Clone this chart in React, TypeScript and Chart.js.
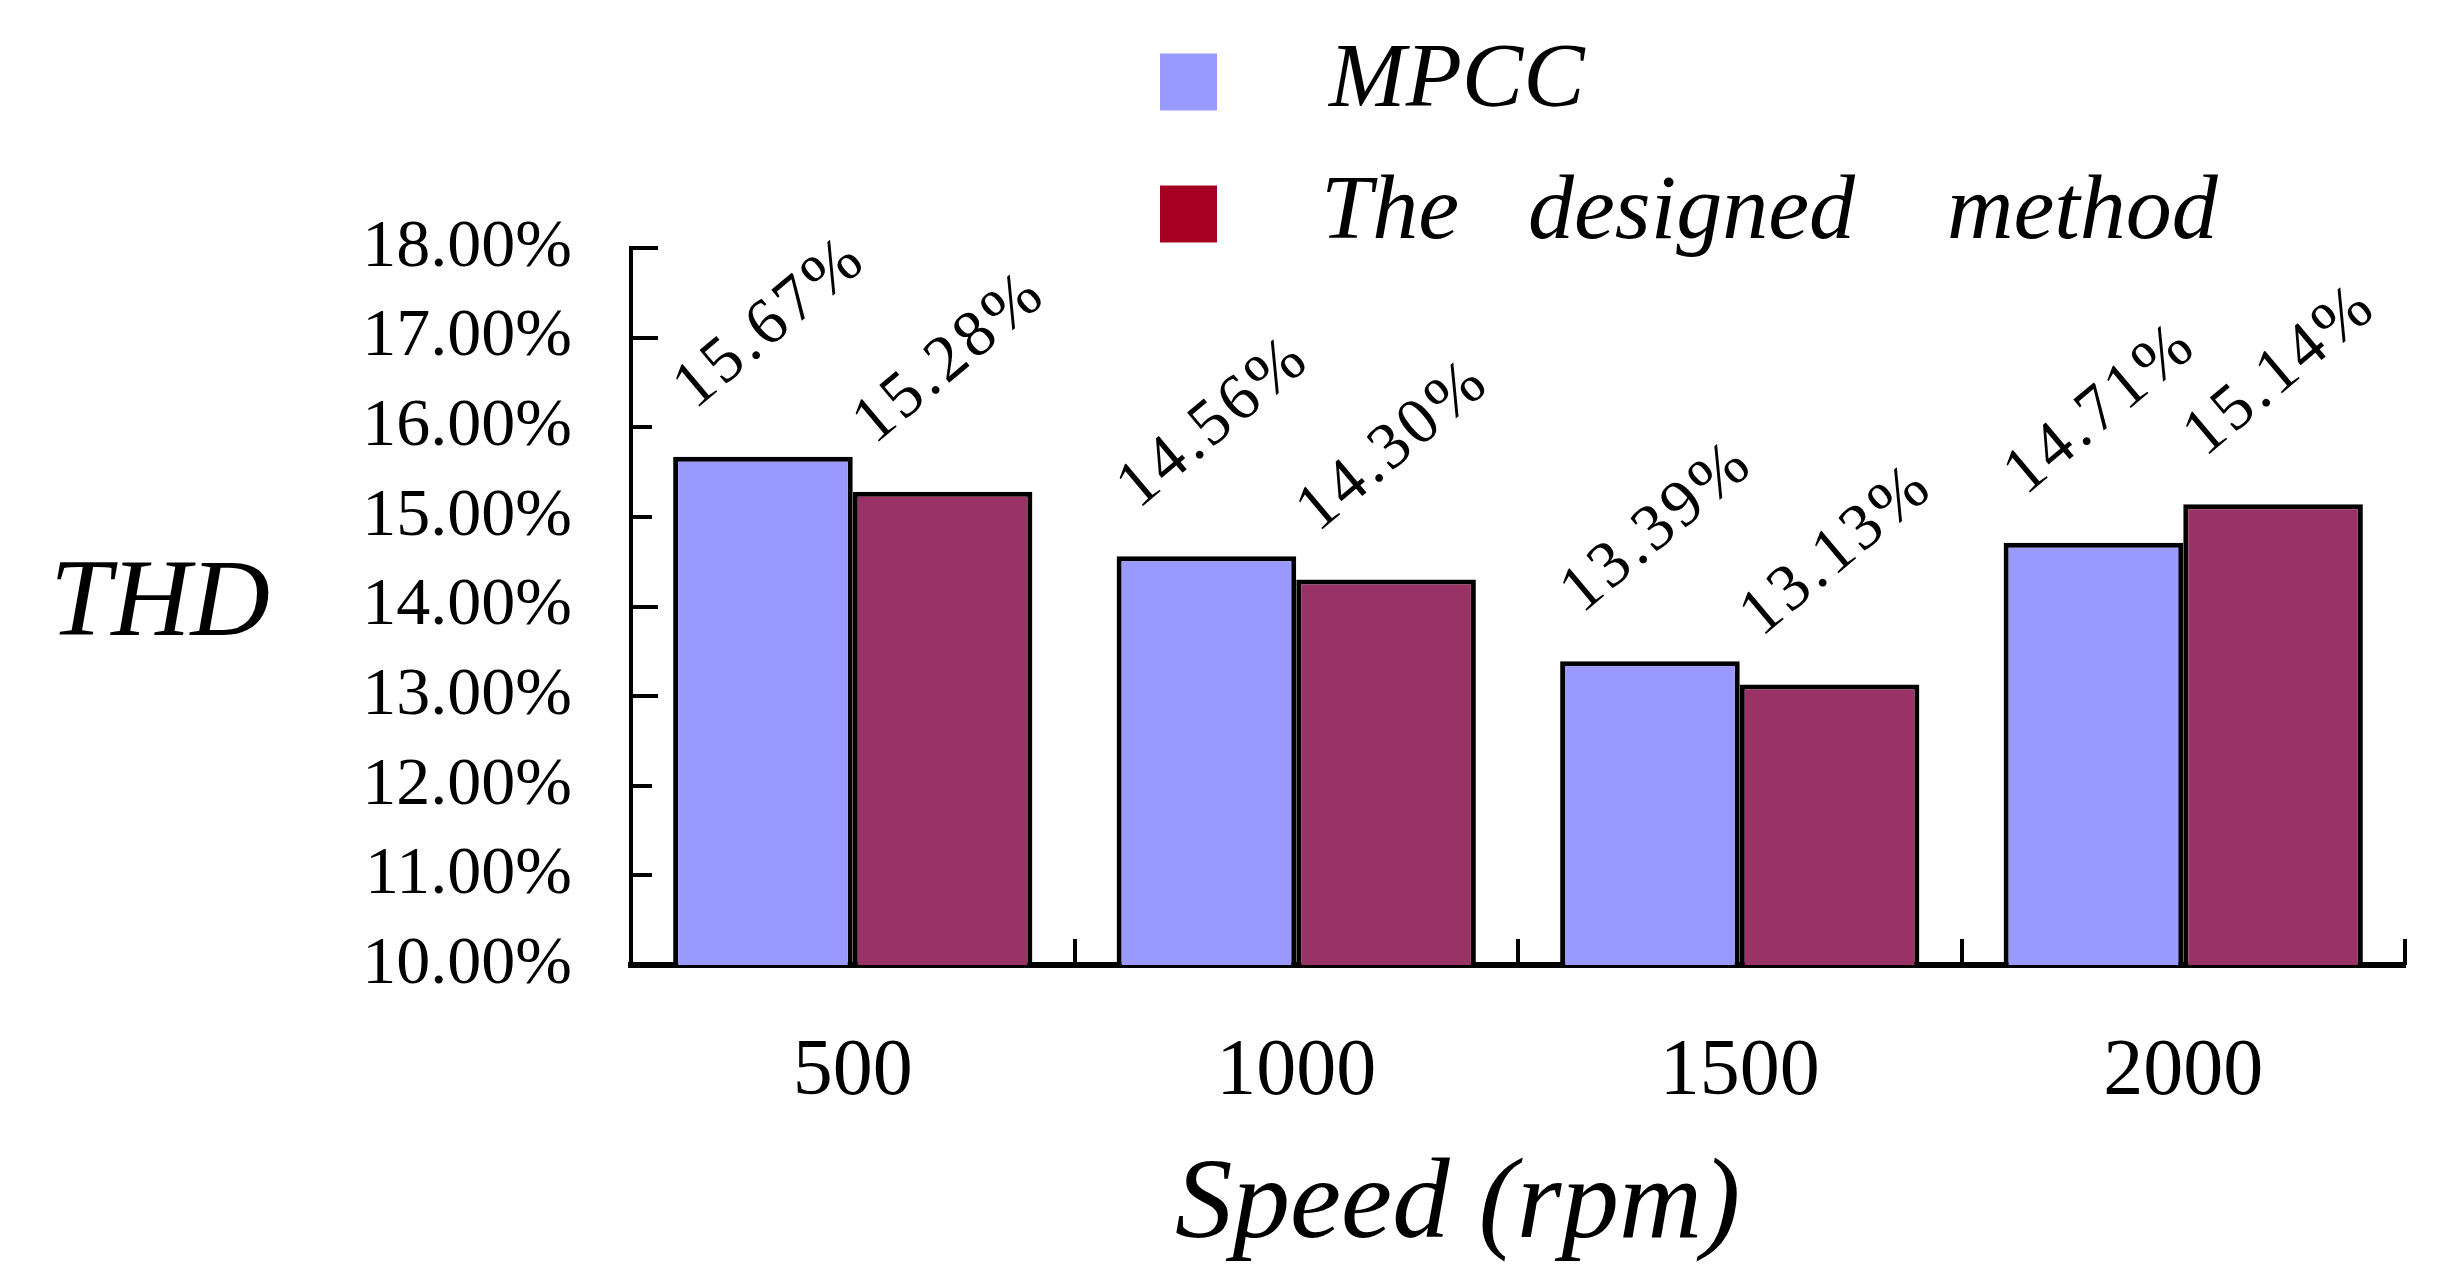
import React, { useEffect, useRef } from 'react';
import { Chart, registerables } from 'chart.js';

Chart.register(...registerables);

// ---- data ----
const categories: string[] = ['500', '1000', '1500', '2000'];
const mpccValues: number[] = [15.67, 14.56, 13.39, 14.71];
const designedValues: number[] = [15.28, 14.30, 13.13, 15.14];
const seriesNames: string[] = ['MPCC', 'The   designed    method'];
const yMin = 10;
const yMax = 18;
const yStep = 1;
const xTitleText = 'Speed (rpm)';
const yTitleText = 'THD';

// ---- styles ----
const barColors = ['#9999FF', '#993366'];
const legendColors = ['#9999FF', '#A50021'];
const SERIF = '"Liberation Serif", "Times New Roman", serif';

const decorPlugin = {
  id: 'decor',
  afterDatasetsDraw(chart: any) {
    const ctx: CanvasRenderingContext2D = chart.ctx;
    const { left, right, top, bottom } = chart.chartArea;
    const xs = chart.scales.x;
    const ys = chart.scales.y;
    ctx.save();
    ctx.strokeStyle = '#000';
    ctx.lineWidth = 4;
    // inward y ticks
    ys.ticks.forEach((t: any, i: number) => {
      if (t.value === yMin) return;
      const py = Math.round(ys.getPixelForValue(t.value));
      const len = i % 4 === 0 || i % 4 === 3 ? 27 : 21;
      ctx.beginPath();
      ctx.moveTo(left, py);
      ctx.lineTo(left + len, py);
      ctx.stroke();
    });
    // x boundary ticks (upward)
    for (let i = 0; i < categories.length; i++) {
      const px =
        i < categories.length - 1
          ? (xs.getPixelForValue(i) + xs.getPixelForValue(i + 1)) / 2
          : right;
      ctx.beginPath();
      ctx.moveTo(Math.round(px), bottom);
      ctx.lineTo(Math.round(px), bottom - 26);
      ctx.stroke();
    }
    // rotated value labels
    chart.data.datasets.forEach((ds: any, di: number) => {
      const meta = chart.getDatasetMeta(di);
      meta.data.forEach((bar: any, i: number) => {
        const v = ds.data[i] as number;
        ctx.save();
        ctx.translate(bar.x + 8, bar.y - 133);
        ctx.rotate((-40 * Math.PI) / 180);
        ctx.font = `66px ${SERIF}`;
        (ctx as any).letterSpacing = '4px';
        ctx.textAlign = 'center';
        ctx.textBaseline = 'middle';
        ctx.fillStyle = '#000';
        ctx.fillText(v.toFixed(2) + '%', 0, 0);
        ctx.restore();
      });
    });
    // y title (horizontal)
    ctx.fillStyle = '#000';
    ctx.font = `italic 110px ${SERIF}`;
    ctx.textAlign = 'center';
    ctx.textBaseline = 'middle';
    ctx.fillText(yTitleText, 160, (top + bottom) / 2);
    // x title
    ctx.font = `italic 115px ${SERIF}`;
    ctx.fillText(xTitleText, left + (right - left) * 0.466, 1207);
    // legend
    const boxX = 1160;
    const boxSize = 57;
    const rowY = [82, 214];
    ctx.textAlign = 'left';
    ctx.font = `italic 92px ${SERIF}`;
    seriesNames.forEach((name, i) => {
      ctx.fillStyle = legendColors[i];
      ctx.fillRect(boxX, rowY[i] - boxSize / 2, boxSize, boxSize);
      ctx.fillStyle = '#000';
      ctx.fillText(name, i === 0 ? 1329 : 1321, rowY[i]);
    });
    ctx.restore();
  },
};

export default function App() {
  const canvasRef = useRef<HTMLCanvasElement | null>(null);

  useEffect(() => {
    if (!canvasRef.current) return;
    const chart = new Chart(canvasRef.current, {
      type: 'bar',
      data: {
        labels: categories,
        datasets: [
          {
            label: seriesNames[0],
            data: mpccValues,
            backgroundColor: barColors[0],
            borderColor: '#000',
            borderWidth: 5,
          },
          {
            label: seriesNames[1],
            data: designedValues,
            backgroundColor: barColors[1],
            borderColor: '#000',
            borderWidth: 5,
          },
        ],
      },
      options: {
        responsive: false,
        animation: false,
        devicePixelRatio: 1,
        layout: { padding: { left: 0, right: 52, top: 248, bottom: 0 } },
        datasets: { bar: { barPercentage: 1.0, categoryPercentage: 0.81 } },
        plugins: {
          legend: { display: false },
          tooltip: { enabled: false },
        },
        scales: {
          x: {
            grid: { display: true, drawOnChartArea: false, drawTicks: false, color: 'transparent' },
            border: { display: true, color: '#000', width: 6 },
            ticks: {
              color: '#000',
              padding: 60,
              font: { family: SERIF, size: 80 },
            },
            afterFit: (s: any) => {
              s.height = 311;
            },
          },
          y: {
            min: yMin,
            max: yMax,
            grid: { display: true, drawOnChartArea: false, drawTicks: false, color: 'transparent' },
            border: { display: true, color: '#000', width: 4 },
            ticks: {
              stepSize: yStep,
              color: '#000',
              padding: 59,
              font: { family: SERIF, size: 68 },
              callback: (v: any) => Number(v).toFixed(2) + '%',
            },
            afterFit: (s: any) => {
              s.width = 631;
            },
          },
        },
      },
      plugins: [decorPlugin],
    });
    return () => chart.destroy();
  }, []);

  return (
    <div style={{ position: 'fixed', left: 0, top: 0, width: 2457, height: 1276, background: '#fff' }}>
      <canvas ref={canvasRef} width={2457} height={1276} style={{ display: 'block' }} />
    </div>
  );
}
